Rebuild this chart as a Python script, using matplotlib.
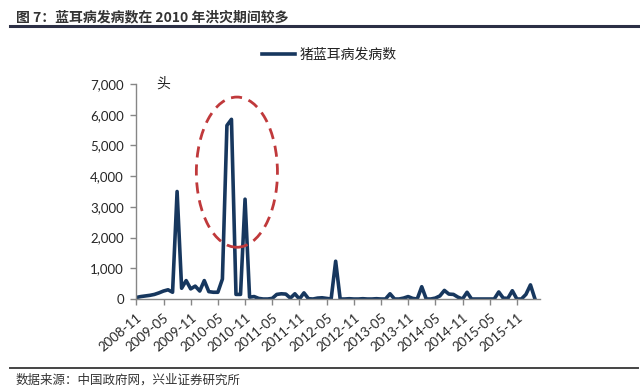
import numpy as np
import matplotlib
matplotlib.use("Agg")
from matplotlib import pyplot as plt
from matplotlib.patches import Ellipse

plt.rcParams['font.family'] = ['Lato', 'Noto Sans CJK SC', 'DejaVu Sans']

# monthly data, 2008-11 .. 2016-03
cases = [50, 80, 100, 120, 150, 200, 260, 300, 220, 3500,
         350, 600, 330, 420, 260, 600, 240, 220, 220, 650,
         5650, 5850, 150, 150, 3250, 60, 80, 20, 0, 0,
         20, 150, 170, 160, 30, 170, 0, 200, 10, 0,
         30, 40, 20, 0, 1230, 0, 0, 10, 0, 0,
         10, 0, 0, 10, 0, 0, 170, 0, 0, 30,
         80, 20, 0, 400, 0, 0, 30, 100, 280, 160,
         150, 60, 0, 220, 0, 0, 0, 0, 0, 0,
         230, 30, 20, 270, 0, 0, 150, 460, 0]
tick_labels = ['2008-11', '2009-05', '2009-11', '2010-05', '2010-11',
               '2011-05', '2011-11', '2012-05', '2012-11', '2013-05',
               '2013-11', '2014-05', '2014-11', '2015-05', '2015-11']
yticks = [0, 1000, 2000, 3000, 4000, 5000, 6000, 7000]

title = '图 7：蓝耳病发病数在 2010 年洪灾期间较多'
source = '数据来源：中国政府网，兴业证券研究所'
series_name = '猪蓝耳病发病数'

cjk = ['Noto Sans CJK SC', 'DejaVu Sans']
navy = '#17375e'

fig = plt.figure(figsize=(6.4, 3.9), dpi=100)
ax = fig.add_axes([0.213, 0.2333, 0.63, 0.5513])

months = np.arange(len(cases))
ax.plot(months, cases, color=navy, lw=2.6, solid_joinstyle='round', label=series_name)

ax.set_xlim(0, 89)
ax.set_ylim(0, 7000)
ax.set_yticks(yticks)
ax.set_yticklabels([f'{v:,}' for v in yticks])
ax.set_xticks(np.arange(0, 6 * len(tick_labels), 6))
ax.set_xticklabels(tick_labels, rotation=40, ha='right', rotation_mode='anchor')

for s in ['top', 'right']:
    ax.spines[s].set_visible(False)
for s in ['left', 'bottom']:
    ax.spines[s].set_color('#868686')
    ax.spines[s].set_linewidth(1)
ax.tick_params(axis='both', colors='#868686', length=4, width=1, labelsize=9.5,
               labelcolor='#262626')
ax.tick_params(axis='x', pad=5)
ax.tick_params(axis='y', pad=5)

# dashed ellipse around the 2010 flood peaks
ell = Ellipse((22.2, 4130), width=17.9, height=4890, fill=False,
              edgecolor='#c0393b', lw=2, ls=(0, (4, 2.5)), zorder=3)
ax.add_patch(ell)

ax.text(4.5, 7000, '头', family=cjk, fontsize=10, color='#222222', va='center')

leg = fig.legend(loc='center left', bbox_to_anchor=(0.39, 0.859), frameon=False,
                 prop={'family': cjk, 'size': 10}, handlelength=2.4,
                 handletextpad=0.3)
for t in leg.get_texts():
    t.set_color('#222222')

fig.text(0.025, 0.955, title, family=cjk, fontsize=10, fontweight='bold',
         color='#333333', va='center')
fig.add_artist(plt.Line2D([0.015, 0.997], [0.933, 0.933], color='#2b2f45', lw=2.2))
fig.add_artist(plt.Line2D([0.015, 0.997], [0.057, 0.057], color='#444444', lw=1.4))
fig.text(0.025, 0.026, source, family=cjk, fontsize=9, color='#333333', va='center')

fig.savefig('out.png', dpi=100)
